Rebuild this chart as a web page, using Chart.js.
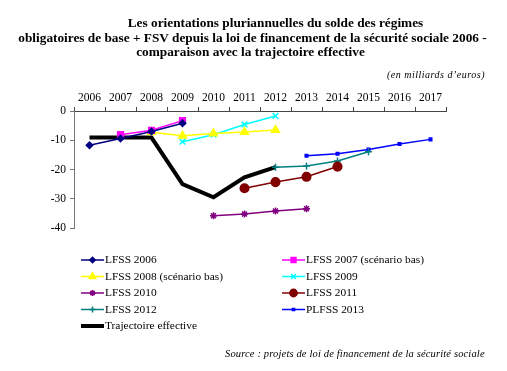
<!DOCTYPE html>
<html>
<head>
<meta charset="utf-8">
<script src="https://cdn.jsdelivr.net/npm/chart.js@4.4.0/dist/chart.umd.min.js"></script>
<style>
  body { margin: 0; background: #fff; font-family: "Liberation Serif", serif; }
  #wrap { position: absolute; left: 0; top: 0; width: 507px; height: 371px; }
  .title { position: absolute; left: 0; width: 507px; text-align: center; font-weight: bold; font-size: 13.3px; white-space: nowrap; }
  .note { position: absolute; font-style: italic; font-size: 10px; white-space: nowrap; }
</style>
</head>
<body>
<div id="wrap"><canvas id="chart" width="507" height="371"></canvas></div>
<div class="title" style="top:15px; left:22px;">Les orientations pluriannuelles du solde des régimes</div>
<div class="title" style="top:30px; left:-1px;">obligatoires de base + FSV depuis la loi de financement de la sécurité sociale 2006 -</div>
<div class="title" style="top:44px; left:-3px;">comparaison avec la trajectoire effective</div>
<div class="note" style="top:69px; right:22px; letter-spacing:0.5px;">(en milliards d’euros)</div>
<div class="note" style="top:348px; left:225px; font-size:10.5px; letter-spacing:0.15px;">Source : projets de loi de financement de la sécurité sociale</div>
<script>
// annees affichees en haut
const years = ['2006','2007','2008','2009','2010','2011','2012','2013','2014','2015','2016','2017'];
const yTicks = [0, -10, -20, -30, -40];

// valeurs (milliards d'euros)
const lfss2006 = [-11.7, -9.4, -7.0, -4.2, null, null, null, null, null, null, null, null];
const lfss2007 = [null, -8.1, -6.6, -3.3, null, null, null, null, null, null, null, null];
const lfss2008 = [null, null, -7.3, -8.5, -7.7, -7.2, -6.5, null, null, null, null, null];
const lfss2009 = [null, null, null, -10.5, -8.1, -4.6, -1.7, null, null, null, null, null];
const lfss2010 = [null, null, null, null, -35.8, -35.2, -34.2, -33.4, null, null, null, null];
const lfss2011 = [null, null, null, null, null, -26.4, -24.3, -22.5, -19.0, null, null, null];
const lfss2012 = [null, null, null, null, null, null, -19.2, -18.8, -17.1, -13.9, null, null];
const plfss2013 = [null, null, null, null, null, null, null, -15.3, -14.6, -13.2, -11.3, -9.7];
const effective = [-9.1, -9.1, -9.1, -25.0, -29.5, -22.7, -19.2, null, null, null, null, null];

function serie(label, data, color, style, radius, width) {
  return {
    label: label,
    data: data,
    borderColor: color,
    backgroundColor: color,
    borderWidth: width || 1.5,
    pointStyle: style,
    pointRadius: radius,
    pointBorderWidth: 1.5,
    pointHoverRadius: radius,
    tension: 0,
    spanGaps: false
  };
}

const datasets = [
  serie('LFSS 2006', lfss2006, '#000080', 'rectRot', 3.2),
  serie('LFSS 2007 (scénario bas)', lfss2007, '#ff00ff', 'rect', 4),
  serie('LFSS 2008 (scénario bas)', lfss2008, '#ffff00', 'triangle', 4.5),
  serie('LFSS 2009', lfss2009, '#00ffff', 'crossRot', 4),
  serie('LFSS 2010', lfss2010, '#800080', 'star', 3.5),
  serie('LFSS 2011', lfss2011, '#800000', 'circle', 4.3),
  serie('LFSS 2012', lfss2012, '#008080', 'cross', 3.5),
  serie('PLFSS 2013', plfss2013, '#0000ff', 'rect', 1.8),
  serie('Trajectoire effective', effective, '#000000', false, 0, 4)
];

// legende en deux colonnes sous le graphique
const legendPlugin = {
  id: 'legendeDeuxColonnes',
  afterDraw(chart) {
    const ctx = chart.ctx;
    ctx.save();
    ctx.font = '11.4px "Liberation Serif"';
    ctx.textBaseline = 'middle';
    chart.data.datasets.forEach((ds, i) => {
      const col = i % 2;
      const row = Math.floor(i / 2);
      const x = col === 0 ? 81 : 282;
      const y = 260 + row * 16.5;
      ctx.strokeStyle = ds.borderColor;
      ctx.lineWidth = ds.borderWidth;
      ctx.beginPath();
      ctx.moveTo(x, y);
      ctx.lineTo(x + 23, y);
      ctx.stroke();
      if (ds.pointStyle) {
        ctx.fillStyle = ds.backgroundColor;
        ctx.lineWidth = 1.5;
        Chart.helpers.drawPoint(ctx, { pointStyle: ds.pointStyle, radius: ds.pointRadius * 0.85, borderWidth: 1.5 }, x + 11.5, y);
      }
      ctx.fillStyle = '#000';
      ctx.fillText(ds.label, x + 24, y + 0.5);
    });
    ctx.restore();
  }
};

new Chart(document.getElementById('chart'), {
  type: 'line',
  data: { labels: years, datasets: datasets },
  plugins: [legendPlugin],
  options: {
    responsive: false,
    animation: false,
    layout: { padding: { left: 34, right: 61, top: 91, bottom: 143 } },
    plugins: { legend: { display: false }, tooltip: { enabled: false } },
    scales: {
      x: {
        position: 'top',
        offset: true,
        grid: { offset: true, drawOnChartArea: false, tickLength: 4, color: '#444' },
        border: { color: '#444', width: 1 },
        ticks: { color: '#000', font: { family: 'Liberation Serif', size: 11.5 }, padding: 2, maxRotation: 0, autoSkip: false },
        afterFit(s) { s.height = 20; }
      },
      y: {
        min: -40,
        max: 0,
        grid: { drawOnChartArea: false, tickLength: 4, color: '#777' },
        border: { color: '#777', width: 1 },
        ticks: {
          stepSize: 10,
          color: '#000',
          font: { family: 'Liberation Serif', size: 11.5 },
          padding: 4,
          callback: (v) => yTicks.includes(v) ? String(v) : ''
        },
        afterFit(s) { s.width = 40; }
      }
    }
  }
});
</script>
</body>
</html>
